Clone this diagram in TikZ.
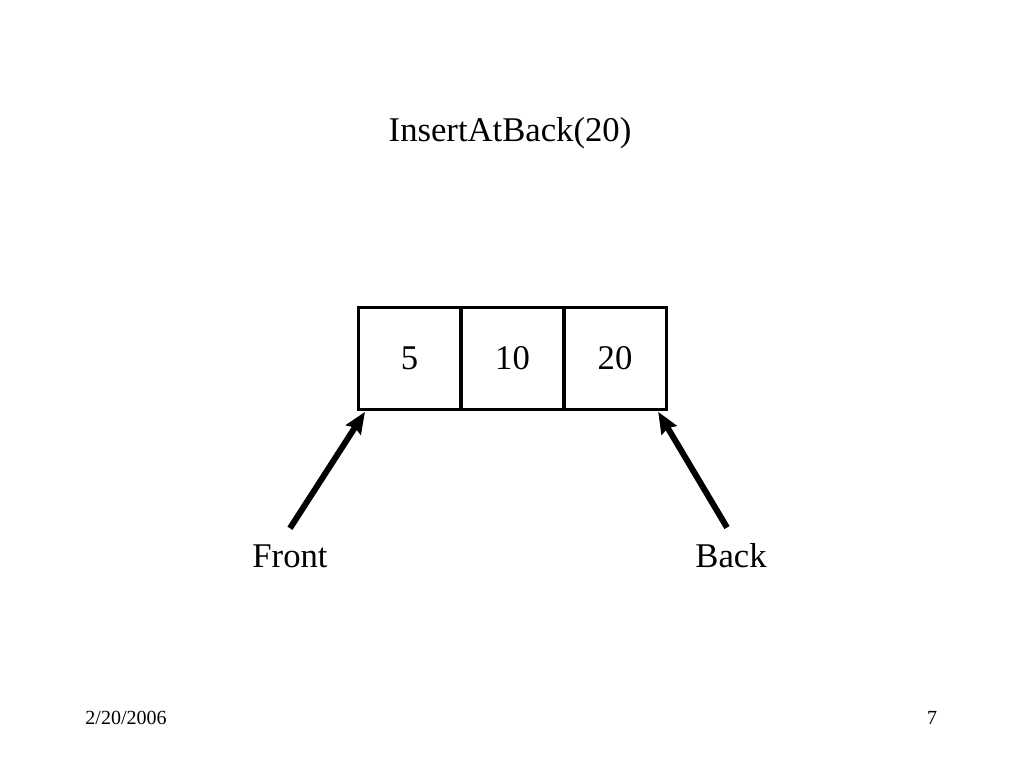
\documentclass[tikz,border=0pt]{standalone}
\usepackage{fontspec}
\setmainfont{Liberation Serif}
\usetikzlibrary{arrows.meta, positioning}
\begin{document}
\begin{tikzpicture}[x=0.75pt, y=-0.75pt, >=Stealth,
		cell/.style={rectangle, draw=black, line width=2.25pt, minimum width=76.5pt, minimum height=76.5pt, inner sep=0pt, font=\fontsize{26}{30}\selectfont},
		lbl/.style={inner sep=0pt, font=\fontsize{26}{30}\selectfont},
		foot/.style={inner sep=0pt, font=\fontsize{15}{18}\selectfont},
		ptr/.style={-{Stealth[length=16pt, width=13pt, inset=2pt]}, line width=4.5pt}]
		
		\useasboundingbox (0,0) rectangle (1024,768);
		
		% Titulo
		\node[lbl] (title) at (510,133) {InsertAtBack(20)};
		
		% Celulas da fila
		\node[cell] (c1) at (409.5,358) {5};
		\node[cell] (c2) at (512.5,358) {10};
		\node[cell] (c3) at (615,358) {20};
		
		% Ponteiros
		\node[lbl] (front) at (290,556) {Front};
		\node[lbl] (back) at (731,556) {Back};
		\draw[ptr] ([xshift=0pt, yshift=12pt]front.north) -- ([xshift=6pt, yshift=-1pt]c1.south west);
		\draw[ptr] ([xshift=-3pt, yshift=12pt]back.north) -- ([xshift=-7pt, yshift=-1pt]c3.south east);
		
		% Rodape
		\node[foot] (date) at (126,718) {2/20/2006};
		\node[foot] (page) at (932,718) {7};
		
	\end{tikzpicture}
\end{document}
